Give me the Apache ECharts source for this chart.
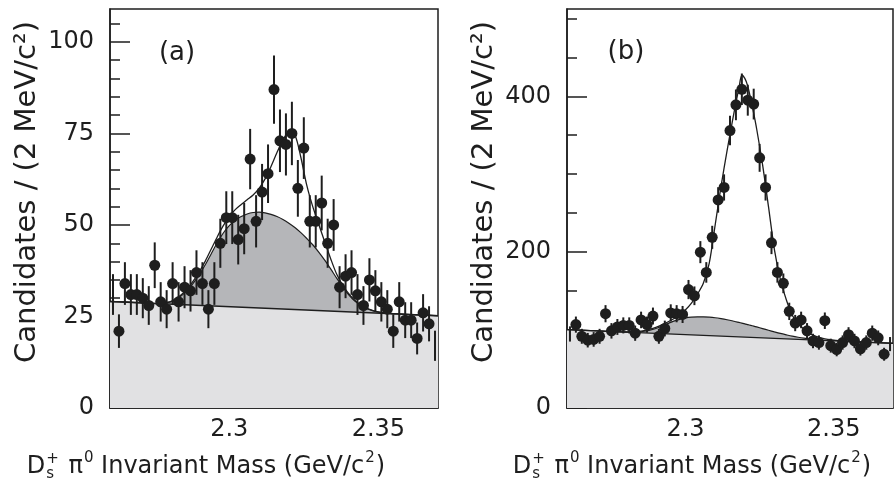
<!DOCTYPE html>
<html>
<head>
<meta charset="utf-8">
<script src="https://cdn.jsdelivr.net/npm/echarts@6/dist/echarts.min.js"></script>
<style>
html, body { margin: 0; padding: 0; background: #fff; }
#chart { width: 894px; height: 483px; }
</style>
</head>
<body>
<div id="chart"></div>
<script>
// ---- Histogram: 2 MeV bins of the Ds+ pi0 invariant mass (GeV/c^2) ----
const massBins = [2.261,2.263,2.265,2.267,2.269,2.271,2.273,2.275,2.277,2.279,
  2.281,2.283,2.285,2.287,2.289,2.291,2.293,2.295,2.297,2.299,
  2.301,2.303,2.305,2.307,2.309,2.311,2.313,2.315,2.317,2.319,
  2.321,2.323,2.325,2.327,2.329,2.331,2.333,2.335,2.337,2.339,
  2.341,2.343,2.345,2.347,2.349,2.351,2.353,2.355,2.357,2.359,
  2.361,2.363,2.365,2.367,2.369];

// Candidates per bin, panel (a)
const countsA = [31,21,34,31,31,30,28,39,29,27,34,29,33,32,37,34,27,34,45,52,
  52,46,49,68,51,59,64,87,73,72,75,60,71,51,51,56,45,50,33,36,
  37,31,28,35,32,29,27,21,29,24,24,19,26,23,17];

// Candidates per bin, panel (b)
const countsB = [95,107,92,87,88,92,121,99,104,106,106,96,113,107,118,92,102,122,121,120,
  152,144,200,174,219,267,283,356,389,409,395,390,321,283,212,174,160,124,109,113,
  99,86,84,112,80,75,84,94,86,76,84,96,90,69,82];

// ---- Fit curves, panel (a) ----
const fitMassA = [2.260,2.270,2.276,2.280,2.282,2.284,2.286,2.288,2.290,2.292,2.294,2.296,2.298,
  2.300,2.302,2.304,2.306,2.308,2.310,2.312,2.314,2.316,2.318,2.320,2.322,2.324,2.326,2.328,
  2.330,2.332,2.334,2.336,2.338,2.340,2.342,2.344,2.346,2.348,2.350,2.352,2.354,2.356,2.362,2.370];
const bgEndsA = [29.1, 25.2];          // linear background at 2.26 and 2.37
const bumpA = [29.10,28.75,28.53,28.9,29.6,30.7,32.2,34.2,36.5,39.2,42.2,45.2,47.8,
  49.8,51.3,52.3,53.0,53.4,53.5,53.3,52.9,52.3,51.5,50.5,49.3,47.9,46.3,44.6,
  42.6,40.4,38.0,35.5,33.1,31.0,29.3,28.1,27.2,26.6,26.2,25.95,25.8,25.70,25.48,25.20];
const totalA = [29.10,28.75,28.53,29.0,29.8,31.0,32.6,34.8,37.3,40.2,43.5,46.8,49.8,
  52.3,54.2,55.6,56.9,58.2,60.0,62.6,66.0,69.8,73.2,75.3,74.6,68.5,60.8,55.0,
  50.2,45.4,40.8,36.6,33.6,31.3,29.5,28.2,27.3,26.7,26.25,25.98,25.82,25.71,25.48,25.20];

// ---- Fit curves, panel (b) ----
const fitMassB = [2.260,2.270,2.276,2.280,2.282,2.284,2.286,2.288,2.290,2.292,2.294,2.296,2.298,
  2.300,2.302,2.304,2.306,2.308,2.310,2.312,2.314,2.316,2.317,2.318,2.319,2.320,2.321,2.322,2.323,
  2.324,2.326,2.328,2.330,2.332,2.334,2.336,2.338,2.340,2.342,2.344,2.346,2.348,2.350,2.352,
  2.354,2.356,2.358,2.360,2.370];
const bgEndsB = [100.5, 83.0];
const bumpB = [100.5,98.91,97.95,97.40,97.3,97.6,98.5,100.0,102.0,105.0,108.3,111.5,113.8,
  115.5,116.5,117.0,117.0,116.6,115.8,114.6,113.2,111.6,110.7,109.8,108.9,108.0,107.0,106.0,105.0,
  104.0,101.9,99.8,97.7,95.7,93.9,92.2,90.8,89.6,88.6,87.8,87.1,86.6,86.2,85.86,
  85.55,85.23,84.91,84.59,83.0];
const totalB = [100.5,98.91,97.95,97.5,97.6,98.2,99.4,101.2,103.6,106.6,110.3,114.5,119.5,
  126.0,134.5,146.0,160.0,186.0,235.0,285.0,330.0,372.0,392.0,410.0,427.0,423.0,413.0,396.0,378.0,
  358.0,312.0,258.0,203.0,165.0,139.0,119.0,108.0,101.0,95.5,92.0,89.8,88.2,87.2,86.5,
  85.9,85.4,85.0,84.6,83.0];

// ---- Axis ticks and labels ----
const massRange = [2.26, 2.37];
const massMajorTicks = [2.3, 2.35];
const massTickLabels = ['2.3', '2.35'];
const massMinorTicks = [2.27, 2.28, 2.29, 2.31, 2.32, 2.33, 2.34, 2.36];

const yMaxA = 109;
const yMajorA = [0, 25, 50, 75, 100];
const yMinorA = [5,10,15,20,30,35,40,45,55,60,65,70,80,85,90,95,105];
const yMaxB = 512;
const yMajorB = [0, 200, 400];
const yMinorB = [50,100,150,250,300,350,450,500];

const yTitle = 'Candidates / (2 MeV/c²)';
const panelTags = ['(a)', '(b)'];

// ---- Styling ----
const FONT = 'DejaVu Sans';
const INK = '#1e1e1e';
const LIGHT_FILL = '#e1e1e3';
const DARK_FILL = '#b5b6b9';

const chart = echarts.init(document.getElementById('chart'), null, { renderer: 'canvas' });

function pairs(xs, ys) { return xs.map((x, i) => [x, ys[i]]); }

function massAxes(grid) {
  const common = {
    gridIndex: grid, type: 'value', min: massRange[0], max: massRange[1],
    position: 'bottom', splitLine: { show: false }
  };
  return [
    Object.assign({}, common, {
      axisLine: { show: true, lineStyle: { color: INK, width: 1.5 } },
      axisTick: { show: true, inside: true, length: 19, customValues: massMajorTicks,
        lineStyle: { color: INK, width: 1.5 } },
      axisLabel: { show: true, customValues: massMajorTicks, margin: 10,
        fontSize: 24, fontFamily: FONT, color: INK,
        formatter: v => {
          const i = massMajorTicks.findIndex(t => Math.abs(t - v) < 1e-6);
          return i >= 0 ? massTickLabels[i] : '';
        } }
    }),
    Object.assign({}, common, {
      axisLine: { show: false },
      axisTick: { show: true, inside: true, length: 9, customValues: massMinorTicks,
        lineStyle: { color: INK, width: 1.5 } },
      axisLabel: { show: false }
    })
  ];
}

function countAxes(grid, max, major, minor) {
  const common = {
    gridIndex: grid, type: 'value', min: 0, max: max,
    position: 'left', splitLine: { show: false }
  };
  return [
    Object.assign({}, common, {
      axisLine: { show: true, lineStyle: { color: INK, width: 1.5 } },
      axisTick: { show: true, inside: true, length: 20, customValues: major,
        lineStyle: { color: INK, width: 1.5 } },
      axisLabel: { show: true, customValues: major, margin: 16,
        fontSize: 24, fontFamily: FONT, color: INK }
    }),
    Object.assign({}, common, {
      axisLine: { show: false },
      axisTick: { show: true, inside: true, length: 10, customValues: minor,
        lineStyle: { color: INK, width: 1.5 } },
      axisLabel: { show: false }
    })
  ];
}

function panelSeries(axis, counts, fitMass, bump, bgEnds, total) {
  const ax = { xAxisIndex: axis, yAxisIndex: axis };
  // Bins at either end sit on the frame: only their error bars are drawn.
  const points = massBins.map((m, i) => {
    const hidden = (i === 0 || i === massBins.length - 1);
    return hidden ? { value: [m, counts[i]], itemStyle: { opacity: 0 } } : [m, counts[i]];
  });
  return [
    Object.assign({
      type: 'line', data: pairs(fitMass, bump), smooth: 0.3, showSymbol: false, clip: true,
      lineStyle: { color: INK, width: 1.2 },
      areaStyle: { color: DARK_FILL, opacity: 1, origin: 'start' }, z: 1
    }, ax),
    Object.assign({
      type: 'line', data: pairs(massRange, bgEnds), showSymbol: false, clip: true,
      lineStyle: { color: INK, width: 1.3 },
      areaStyle: { color: LIGHT_FILL, opacity: 1, origin: 'start' }, z: 2
    }, ax),
    Object.assign({
      type: 'line', data: pairs(fitMass, total), smooth: 0.3, showSymbol: false, clip: true,
      lineStyle: { color: INK, width: 1.3 }, z: 3
    }, ax),
    Object.assign({
      // Poisson error bars: count ± sqrt(count)
      type: 'custom', z: 4, clip: true,
      data: massBins.map((m, i) => [m, counts[i], Math.sqrt(counts[i])]),
      renderItem: (params, api) => {
        const x = api.value(0), y = api.value(1), e = api.value(2);
        const hi = api.coord([x, y + e]);
        const lo = api.coord([x, Math.max(0, y - e)]);
        return { type: 'line', shape: { x1: hi[0], y1: hi[1], x2: lo[0], y2: lo[1] },
          style: { stroke: INK, lineWidth: 2 } };
      }
    }, ax),
    Object.assign({
      type: 'scatter', data: points, symbol: 'circle', symbolSize: 11,
      itemStyle: { color: INK, opacity: 1 }, z: 5
    }, ax)
  ];
}

// Measure text so the x-axis titles can be assembled with stacked sub/superscripts
const measureCtx = document.createElement('canvas').getContext('2d');
function textWidth(str, size) {
  measureCtx.font = size + 'px "' + FONT + '"';
  return measureCtx.measureText(str).width;
}

function massTitle(cx, cy) {
  const F = 24, S = 15;
  const items = [];
  let x = 0;
  const put = (t, size, dy) => items.push({ t, size, x, dy });
  put('D', F, 0); x += textWidth('D', F) + 1;
  put('+', S, -8); put('s', S, 7);
  x += Math.max(textWidth('+', S), textWidth('s', S)) + 2;
  x += textWidth(' ', F);
  put('π', F, 0); x += textWidth('π', F) + 1;
  put('0', S, -9); x += textWidth('0', S);
  put(' Invariant Mass (GeV/c', F, 0); x += textWidth(' Invariant Mass (GeV/c', F) + 1;
  put('2', S, -9); x += textWidth('2', S) + 1;
  put(')', F, 0); x += textWidth(')', F);
  const x0 = cx - x / 2;
  return items.map(it => ({
    type: 'text', x: x0 + it.x, y: cy + it.dy, silent: true,
    style: { text: it.t, fontSize: it.size, fontFamily: FONT, fill: INK,
      align: 'left', verticalAlign: 'middle' }
  }));
}

function label(text, x, y, size, rotation) {
  return {
    type: 'text', x, y, rotation: rotation || 0, silent: true,
    style: { text, fontSize: size, fontFamily: FONT, fill: INK,
      align: 'center', verticalAlign: 'middle' }
  };
}

const option = {
  animation: false,
  backgroundColor: '#ffffff',
  grid: [
    { left: 110, top: 9, width: 328, height: 399, show: true,
      borderColor: INK, borderWidth: 1.5, backgroundColor: 'transparent' },
    { left: 567, top: 9, width: 326, height: 399, show: true,
      borderColor: INK, borderWidth: 1.5, backgroundColor: 'transparent' }
  ],
  xAxis: [].concat(massAxes(0), massAxes(1)),
  yAxis: [].concat(countAxes(0, yMaxA, yMajorA, yMinorA), countAxes(1, yMaxB, yMajorB, yMinorB)),
  series: [].concat(
    panelSeries(0, countsA, fitMassA, bumpA, bgEndsA, totalA),
    panelSeries(2, countsB, fitMassB, bumpB, bgEndsB, totalB)
  ),
  graphic: [].concat(
    [label(yTitle, 27, 192, 29, Math.PI / 2), label(yTitle, 484, 192, 29, Math.PI / 2)],
    [label(panelTags[0], 177, 53, 26), label(panelTags[1], 626, 52, 26)],
    massTitle(206, 467), massTitle(692, 467)
  )
};

chart.setOption(option);
</script>
</body>
</html>
